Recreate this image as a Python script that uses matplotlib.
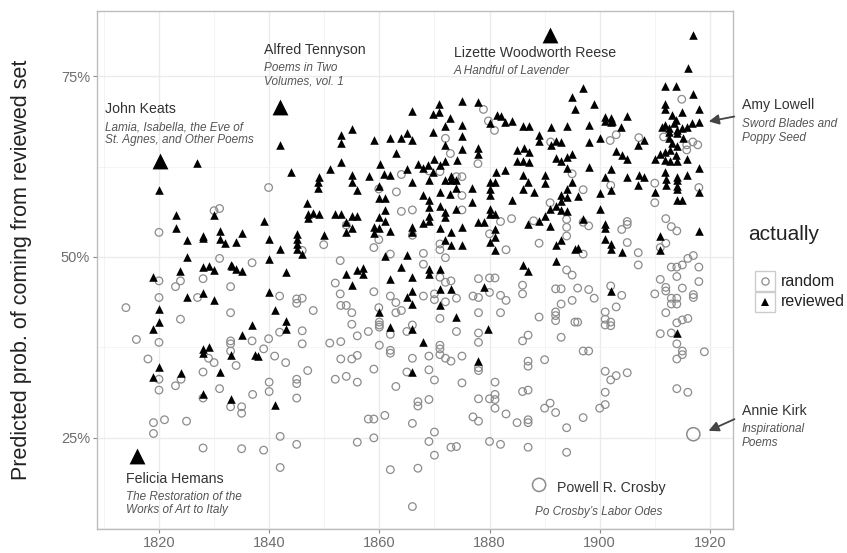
import matplotlib
matplotlib.use('Agg')
import matplotlib.pyplot as plt
from matplotlib.lines import Line2D
from matplotlib.patches import Rectangle

plt.rcParams['font.family'] = ['Liberation Sans', 'DejaVu Sans']

# ---------------- data (year, predicted probability in %) ----------------
reviewed_pts = [
    (1826.9, 63.0),
    (1841.9, 65.5), (1866.0, 70.2), (1855.1, 67.7), (1853.1, 66.9), (1853.1, 65.7), (1859.0, 66.2),
    (1862.0, 66.5), (1864.0, 66.4), (1865.0, 67.1), (1866.0, 66.2), (1863.0, 64.4), (1853.0, 63.1),
    (1851.0, 62.2), (1844.0, 61.8), (1860.1, 62.9), (1855.1, 61.3), (1858.1, 61.2), (1860.9, 61.5),
    (1862.0, 61.3), (1865.0, 62.2), (1849.0, 61.0),
    (1870.9, 71.2), (1875.0, 71.5), (1877.9, 71.4), (1869.8, 69.8), (1870.9, 70.0), (1872.9, 69.2),
    (1881.4, 69.6), (1882.0, 69.5), (1882.9, 68.7), (1884.1, 68.8), (1880.1, 68.5), (1886.1, 68.1),
    (1887.1, 68.1), (1891.1, 68.0), (1894.0, 68.1), (1895.0, 72.1), (1895.6, 70.5), (1869.8, 67.3),
    (1872.0, 68.1), (1875.0, 68.3), (1875.0, 66.7), (1872.0, 65.5), (1874.1, 63.4), (1875.0, 64.9),
    (1877.9, 65.0), (1877.9, 64.2), (1888.9, 66.8), (1888.9, 66.1), (1891.1, 65.5), (1892.1, 66.0),
    (1893.0, 65.9), (1885.0, 64.8), (1886.2, 65.0), (1887.1, 64.5), (1885.0, 63.2), (1886.1, 63.2),
    (1887.1, 63.1), (1892.0, 63.7), (1892.9, 63.2), (1894.0, 63.8), (1895.0, 64.3), (1894.0, 62.3),
    (1881.1, 61.8), (1882.9, 62.0), (1886.1, 61.3), (1890.1, 61.3), (1867.1, 62.8), (1868.0, 62.3),
    (1868.9, 62.7), (1870.0, 63.6), (1871.0, 62.7), (1872.0, 63.2), (1869.8, 61.8), (1873.0, 61.2),
    (1916.9, 80.7), (1916.0, 76.1), (1911.9, 73.7), (1913.9, 73.7), (1916.9, 72.5), (1896.9, 73.4),
    (1898.9, 71.1), (1911.9, 71.1), (1911.9, 70.5), (1914.9, 70.1), (1918.0, 70.4), (1905.0, 69.5),
    (1901.0, 69.4), (1902.0, 69.2), (1901.0, 68.8), (1902.0, 68.7), (1902.3, 68.8), (1913.1, 69.6),
    (1913.9, 68.9), (1898.0, 68.3), (1903.8, 68.0), (1908.0, 66.2), (1900.0, 66.5), (1898.0, 65.9),
    (1911.3, 68.0), (1911.9, 68.2), (1912.5, 67.8), (1913.4, 68.5), (1914.0, 67.5), (1914.9, 67.8),
    (1915.8, 68.0), (1916.7, 68.5), (1918.0, 68.7), (1912.5, 67.3), (1914.0, 67.1), (1912.5, 66.5),
    (1913.1, 65.8), (1915.2, 66.5), (1914.0, 65.3), (1903.0, 64.6), (1904.0, 64.1), (1905.0, 63.6),
    (1907.0, 65.5), (1910.1, 63.6), (1911.0, 64.3), (1911.9, 64.5), (1912.8, 64.8), (1913.9, 64.1),
    (1911.9, 63.4), (1912.8, 63.2), (1914.0, 63.2), (1915.8, 63.5), (1918.0, 62.3), (1898.0, 62.5),
    (1902.0, 62.2), (1901.0, 61.1), (1905.0, 61.1), (1907.1, 61.3), (1908.0, 61.1), (1911.9, 61.8),
    (1914.0, 61.1), (1915.8, 61.3),
    (1820.0, 59.2), (1823.0, 55.8), (1823.0, 54.0), (1825.0, 52.3), (1828.0, 52.9), (1828.0, 52.6),
    (1830.0, 55.8), (1831.0, 53.6), (1831.0, 52.5), (1832.0, 52.0), (1834.0, 52.1), (1835.0, 53.3),
    (1825.0, 50.0), (1823.9, 48.1), (1828.0, 48.6), (1829.0, 48.7), (1830.0, 48.2), (1833.0, 48.9),
    (1833.3, 48.7), (1834.0, 48.3), (1835.0, 48.0), (1818.9, 47.2), (1825.0, 44.4), (1828.0, 45.0),
    (1830.0, 44.0), (1820.0, 42.8), (1820.0, 41.0), (1818.9, 40.0), (1836.9, 40.6), (1835.0, 39.2),
    (1828.0, 37.3), (1829.0, 37.5),
    (1848.9, 60.3), (1848.9, 59.5), (1855.0, 60.3), (1856.0, 59.3), (1860.0, 59.8), (1866.0, 60.4),
    (1846.9, 57.5), (1839.0, 55.0), (1847.0, 56.0), (1847.0, 55.4), (1848.0, 56.1), (1849.0, 55.9),
    (1852.0, 55.9), (1853.0, 55.9), (1855.0, 55.7), (1856.0, 55.7), (1860.0, 58.2), (1861.0, 58.2),
    (1861.0, 56.5), (1860.0, 55.5), (1861.0, 55.0), (1854.0, 54.9), (1855.0, 54.0), (1854.0, 53.5),
    (1859.0, 54.2), (1860.0, 54.0), (1859.0, 53.3), (1862.0, 53.6), (1866.0, 54.1), (1866.0, 53.4),
    (1839.9, 52.5), (1845.0, 53.2), (1845.0, 52.5), (1845.0, 51.8), (1845.0, 51.1), (1846.0, 50.4),
    (1841.9, 51.1), (1849.9, 53.0), (1839.9, 49.7), (1843.0, 47.9), (1854.0, 47.6), (1856.0, 48.2),
    (1857.0, 48.5), (1857.0, 47.7), (1855.0, 46.1), (1861.0, 50.1), (1865.0, 50.3), (1864.0, 48.6),
    (1862.0, 46.9), (1866.0, 47.3), (1866.0, 45.3), (1865.0, 44.4), (1866.0, 43.5), (1860.0, 42.4),
    (1839.9, 45.1), (1841.0, 42.7), (1843.0, 41.1), (1843.0, 40.0), (1862.0, 40.3), (1866.0, 40.0),
    (1869.0, 60.7), (1872.0, 60.7), (1873.0, 60.7), (1874.0, 60.7), (1876.8, 59.6), (1880.0, 60.3),
    (1881.0, 60.3), (1880.0, 59.4), (1880.0, 58.6), (1871.0, 59.0), (1872.9, 58.7), (1874.0, 59.5),
    (1868.0, 58.5), (1869.0, 57.9), (1876.8, 57.6), (1884.0, 57.9), (1886.0, 59.4), (1887.0, 60.3),
    (1888.0, 59.0), (1890.0, 60.2), (1893.0, 57.8), (1894.0, 58.3), (1893.0, 58.6), (1894.0, 59.4),
    (1895.0, 60.3), (1869.0, 56.9), (1871.0, 57.0), (1872.0, 56.2), (1872.0, 55.5), (1874.0, 56.7),
    (1869.0, 55.7), (1880.0, 56.7), (1880.0, 56.0), (1881.0, 56.0), (1868.0, 54.7), (1869.0, 55.0),
    (1871.0, 54.0), (1873.0, 53.5), (1875.0, 54.1), (1878.0, 54.8), (1879.0, 54.8), (1881.0, 53.9),
    (1881.0, 52.8), (1880.0, 52.1), (1881.0, 50.9), (1887.0, 54.5), (1889.0, 55.0), (1890.0, 55.6),
    (1891.0, 54.3), (1891.0, 56.7), (1892.0, 57.1), (1893.0, 56.5), (1894.0, 56.3), (1892.1, 51.6),
    (1893.0, 52.4), (1892.1, 49.5), (1872.0, 52.3), (1873.0, 51.6), (1875.0, 51.6), (1895.5, 51.1),
    (1869.0, 48.4), (1869.0, 47.6), (1871.0, 48.4), (1886.0, 48.9), (1887.0, 48.1), (1879.0, 45.9),
    (1871.0, 45.6), (1873.0, 45.6), (1871.0, 43.3), (1874.0, 41.7), (1879.8, 40.0), (1867.9, 38.3),
    (1900.0, 58.9), (1902.0, 59.3), (1907.0, 59.9), (1910.0, 59.0), (1912.0, 59.9), (1912.0, 60.8),
    (1914.0, 60.6), (1914.0, 59.8), (1914.0, 59.4), (1914.0, 57.9), (1915.0, 57.9), (1918.0, 59.0),
    (1900.0, 56.7), (1897.0, 55.3), (1901.0, 54.5), (1901.0, 54.0), (1901.0, 52.5), (1902.0, 51.8),
    (1902.0, 51.1), (1904.0, 50.7), (1911.0, 52.9), (1911.0, 50.9), (1918.0, 53.6), (1896.0, 58.4),
    (1896.0, 51.2), (1902.0, 45.3), (1914.0, 39.5),
    (1820.0, 34.8), (1819.0, 33.4), (1824.0, 33.9), (1828.0, 36.7), (1831.0, 34.1), (1833.0, 36.5),
    (1837.5, 36.5), (1828.0, 31.0), (1833.0, 30.3),
    (1838.0, 36.3), (1841.0, 29.5), (1866.0, 34.1), (1878.0, 35.6),
]

random_pts = [
    (1864.0, 61.4),
    (1878.9, 70.4), (1879.8, 68.8), (1872.0, 66.4), (1872.9, 64.3), (1877.9, 62.9), (1880.9, 67.5),
    (1891.1, 65.9), (1895.0, 61.5), (1869.0, 61.9), (1874.0, 61.1), (1875.0, 61.1), (1871.0, 61.8),
    (1914.9, 71.8), (1901.9, 66.1), (1903.0, 66.9), (1907.1, 66.5), (1911.6, 66.6), (1915.8, 65.5),
    (1916.9, 65.9), (1917.8, 65.5), (1915.8, 64.8),
    (1830.0, 56.4), (1831.0, 56.7), (1820.0, 53.4), (1831.0, 49.8), (1836.9, 49.2), (1820.0, 46.7),
    (1823.0, 45.9), (1823.9, 46.7), (1828.0, 47.0), (1833.0, 45.9), (1827.0, 44.4), (1820.0, 44.4),
    (1814.0, 43.0), (1823.9, 41.4), (1833.0, 42.3), (1815.9, 38.6), (1820.0, 38.2), (1833.0, 38.4),
    (1833.0, 38.0), (1833.0, 37.0), (1836.9, 38.4),
    (1839.9, 59.6), (1863.1, 59.0), (1859.9, 59.4), (1864.0, 56.3), (1866.0, 56.5), (1854.0, 54.4),
    (1859.9, 52.4), (1859.0, 51.3), (1849.9, 51.7), (1846.0, 50.9), (1862.0, 50.4), (1866.0, 53.0),
    (1852.9, 49.5), (1852.0, 46.4), (1859.0, 45.2), (1841.9, 44.6), (1845.0, 44.2), (1846.0, 44.3),
    (1845.0, 43.6), (1848.0, 42.6), (1852.9, 44.9), (1853.0, 43.3), (1854.0, 43.3), (1855.0, 42.3),
    (1862.0, 44.6), (1863.0, 43.7), (1863.0, 42.3), (1864.0, 42.6), (1859.9, 43.0), (1855.0, 40.7),
    (1860.0, 41.0), (1860.0, 40.6), (1860.0, 40.3), (1866.0, 40.6), (1862.0, 39.3), (1865.0, 39.7),
    (1846.0, 39.8), (1841.9, 39.6), (1856.0, 39.1), (1858.0, 39.7), (1839.9, 38.7), (1846.0, 38.0),
    (1851.0, 38.1), (1853.0, 38.3), (1839.0, 37.3), (1860.0, 37.8), (1862.0, 37.1),
    (1875.0, 58.5), (1875.0, 56.5), (1884.0, 55.3), (1882.0, 54.9), (1888.0, 55.0), (1891.0, 57.5),
    (1894.0, 55.2), (1894.0, 54.1), (1894.0, 52.9), (1889.0, 51.9), (1883.0, 51.0), (1880.0, 53.2),
    (1868.0, 50.5), (1871.0, 51.0), (1871.0, 51.8), (1872.0, 49.9), (1868.0, 49.0), (1871.0, 47.2),
    (1872.0, 46.5), (1873.0, 46.7), (1878.0, 47.0), (1880.0, 47.1), (1881.0, 47.1), (1886.0, 46.1),
    (1886.0, 44.9), (1892.0, 45.6), (1893.0, 45.6), (1894.0, 48.2), (1895.0, 47.5), (1868.0, 44.6),
    (1870.0, 44.9), (1870.0, 44.1), (1872.0, 43.8), (1874.0, 44.3), (1877.0, 44.6), (1878.0, 44.4),
    (1880.0, 45.1), (1882.0, 44.7), (1883.0, 44.0), (1893.0, 43.5), (1895.0, 44.0), (1889.0, 41.7),
    (1892.0, 42.4), (1892.0, 41.9), (1892.0, 41.2), (1871.0, 41.5), (1878.0, 42.3), (1882.0, 42.3),
    (1895.5, 41.0), (1874.0, 39.7), (1878.0, 39.5), (1878.0, 38.2), (1886.0, 38.4), (1887.0, 39.2),
    (1893.0, 38.9), (1871.0, 37.8), (1871.0, 37.3),
    (1897.0, 59.3), (1902.0, 59.9), (1910.0, 60.2), (1918.0, 59.6), (1910.0, 57.5), (1897.0, 54.8),
    (1898.0, 54.3), (1905.0, 54.9), (1905.0, 54.5), (1904.0, 53.8), (1905.0, 52.0), (1907.0, 50.6),
    (1907.0, 48.9), (1912.0, 55.3), (1913.0, 54.2), (1914.0, 53.6), (1912.0, 51.9), (1911.0, 51.3),
    (1897.0, 50.4), (1916.0, 49.8), (1917.0, 50.2), (1913.0, 48.6), (1914.0, 48.6), (1915.0, 48.9),
    (1918.0, 48.6), (1914.0, 47.3), (1911.0, 46.9), (1918.0, 46.6), (1915.0, 45.7), (1912.0, 45.8),
    (1912.0, 45.3), (1910.0, 44.9), (1913.0, 44.3), (1914.0, 44.3), (1913.0, 43.5), (1914.0, 43.5),
    (1917.0, 44.8), (1917.0, 44.4), (1904.0, 44.7), (1903.0, 43.1), (1901.0, 42.4), (1901.0, 41.4),
    (1901.0, 40.6), (1902.0, 41.0), (1902.0, 40.5), (1899.0, 44.3), (1898.0, 45.5), (1896.0, 45.7),
    (1896.0, 41.0), (1912.0, 42.3), (1914.0, 40.9), (1915.0, 41.3), (1916.0, 41.5), (1911.0, 39.4),
    (1913.0, 39.5), (1914.0, 38.0), (1898.0, 37.0), (1897.0, 37.0), (1915.0, 37.0), (1919.0, 36.9),
    (1902.0, 46.0),
    (1818.0, 35.9), (1820.0, 33.1), (1820.0, 31.6), (1823.0, 32.2), (1824.0, 33.1), (1828.0, 34.1),
    (1829.0, 36.0), (1830.0, 35.4), (1834.0, 35.0), (1831.0, 31.8), (1828.0, 30.5), (1837.0, 31.0),
    (1833.0, 29.3), (1835.0, 29.3), (1835.0, 28.4), (1819.0, 27.1), (1819.0, 25.6), (1821.0, 27.5),
    (1825.0, 27.3), (1828.0, 23.6), (1835.0, 23.5),
    (1841.0, 36.3), (1843.0, 35.4), (1840.0, 32.7), (1840.0, 31.4), (1845.0, 33.1), (1845.0, 32.5),
    (1845.0, 30.5), (1847.0, 34.3), (1853.0, 35.9), (1855.0, 35.9), (1856.0, 36.4), (1852.0, 33.1),
    (1854.0, 33.5), (1856.0, 32.7), (1859.0, 34.5), (1862.0, 36.7), (1866.0, 36.0), (1865.0, 34.1),
    (1863.0, 32.1), (1867.0, 30.0), (1867.0, 29.4), (1858.0, 27.6), (1859.0, 27.6), (1861.0, 28.1),
    (1866.0, 27.0), (1842.0, 25.2), (1845.0, 24.1), (1839.0, 23.3), (1856.0, 24.4), (1859.0, 25.0),
    (1842.0, 20.9), (1862.0, 20.6), (1867.0, 20.8), (1866.0, 15.5),
    (1869.0, 36.3), (1871.0, 36.5), (1872.0, 36.0), (1873.0, 35.6), (1875.0, 36.3), (1869.0, 34.4),
    (1870.0, 33.0), (1875.0, 32.6), (1878.0, 34.7), (1878.0, 34.3), (1881.0, 32.7), (1881.0, 31.0),
    (1881.0, 30.3), (1881.0, 29.1), (1880.0, 30.4), (1878.0, 30.4), (1869.0, 30.3), (1877.0, 27.9),
    (1878.0, 27.3), (1883.0, 28.3), (1885.0, 27.1), (1887.0, 27.5), (1887.0, 27.1), (1886.0, 31.4),
    (1887.0, 31.6), (1887.0, 35.6), (1887.0, 34.9), (1890.0, 35.8), (1890.0, 29.1), (1891.0, 29.8),
    (1892.0, 28.5), (1894.0, 26.4), (1870.0, 25.8), (1869.0, 24.5), (1870.0, 22.6), (1873.0, 23.7),
    (1874.0, 23.8), (1880.0, 24.5), (1882.0, 24.1), (1887.0, 23.7), (1894.0, 23.0),
    (1901.0, 34.2), (1902.0, 33.0), (1903.0, 33.6), (1905.0, 34.0), (1901.0, 31.3), (1900.0, 29.1),
    (1901.0, 29.6), (1897.0, 27.8), (1914.0, 35.9), (1915.0, 36.5), (1914.0, 31.8), (1916.0, 31.3),
]

# highlighted books (enlarged markers)
highlight_reviewed = [(1820.1, 63.2), (1841.9, 70.7), (1816.0, 22.5), (1890.9, 80.7)]
highlight_random = [(1889.0, 18.5), (1917.0, 25.5)]

x_ticks = [1820, 1840, 1860, 1880, 1900, 1920]
y_ticks = [25, 50, 75]
y_tick_labels = ['25%', '50%', '75%']

# ---------------- figure ----------------
W, H = 847, 553
fig = plt.figure(figsize=(W / 100, H / 100), dpi=100)
fig.patch.set_facecolor('white')

def fx(px):
    return px / W

def fy(py):
    return 1 - py / H

left, right, top, bottom = 97, 733, 11, 529
ax = fig.add_axes([fx(left), fy(bottom), fx(right) - fx(left), fy(top) - fy(bottom)])
ax.set_xlim(1808.75, 1924.2)
ax.set_ylim(12.4, 84.0)

ax.set_xticks(x_ticks)
ax.set_xticks([1810, 1830, 1850, 1870, 1890, 1910], minor=True)
ax.set_yticks(y_ticks)
ax.set_yticklabels(y_tick_labels)
ax.set_yticks([12.5, 37.5, 62.5], minor=True)
ax.grid(which='major', color='#ebebeb', linewidth=1.0)
ax.grid(which='minor', color='#f3f3f3', linewidth=0.6)
ax.set_axisbelow(True)
for s in ax.spines.values():
    s.set_color('#bdbdbd')
    s.set_linewidth(1.0)
ax.tick_params(which='major', length=3, width=0.8, color='#8a8a8a', labelcolor='#6e6e6e', labelsize=10.5, pad=2)
ax.tick_params(which='minor', length=0)
ax.set_ylabel('Predicted prob. of coming from reviewed set', fontsize=15.5, color='#222222')
ax.yaxis.set_label_coords((32 - left) / (right - left), 0.5)

ry = [p[0] for p in random_pts]
rp = [p[1] for p in random_pts]
vy = [p[0] for p in reviewed_pts]
vp = [p[1] for p in reviewed_pts]

ax.scatter(ry, rp, s=30, marker='o', facecolors='none', edgecolors='#8c8c8c', linewidths=0.9, zorder=3)
ax.scatter(vy, vp, s=38, marker='^', color='black', linewidths=0, zorder=4)
ax.scatter([p[0] for p in highlight_random], [p[1] for p in highlight_random], s=90, marker='o',
           facecolors='none', edgecolors='#8c8c8c', linewidths=1.1, zorder=3)
ax.scatter([p[0] for p in highlight_reviewed], [p[1] for p in highlight_reviewed], s=130, marker='^',
           color='black', linewidths=0, zorder=4)

# ---------------- annotations ----------------
name_kw = dict(fontsize=10.2, color='#333333', va='center', ha='left', clip_on=False)
sub_kw = dict(fontsize=8.5, color='#555555', style='italic', va='center', ha='left', clip_on=False)

def note(px, py, name, subs, sub_px=None, gap=18, step=13.5):
    fig.text(fx(px), fy(py), name, **name_kw)
    sx = px if sub_px is None else sub_px
    for i, s in enumerate(subs):
        fig.text(fx(sx), fy(py + gap + i * step), s, **sub_kw)

note(105, 109, 'John Keats', ['Lamia, Isabella, the Eve of', 'St. Agnes, and Other Poems'])
note(264, 50, 'Alfred Tennyson', ['Poems in Two', 'Volumes, vol. 1'])
note(454, 53, 'Lizette Woodworth Reese', ['A Handful of Lavender'])
note(742, 105, 'Amy Lowell', ['Sword Blades and', 'Poppy Seed'], gap=19)
note(742, 411, 'Annie Kirk', ['Inspirational', 'Poems'], gap=18)
note(126, 479, 'Felicia Hemans', ['The Restoration of the', 'Works of Art to Italy'], gap=18)
note(557, 488, 'Powell R. Crosby', ['Po Crosby\u2019s Labor Odes'], sub_px=535, gap=24)

arrow_kw = dict(arrowstyle='-|>,head_length=0.6,head_width=0.3', color='#444444', lw=1.3)
ax.annotate('', xy=(fx(706), fy(122)), xycoords='figure fraction',
            xytext=(fx(737), fy(116)), textcoords='figure fraction', arrowprops=arrow_kw,
            annotation_clip=False)
ax.annotate('', xy=(fx(706), fy(432)), xycoords='figure fraction',
            xytext=(fx(737), fy(418)), textcoords='figure fraction', arrowprops=arrow_kw,
            annotation_clip=False)

# ---------------- legend ----------------
fig.text(fx(748), fy(234), 'actually', fontsize=15, color='#222222', va='center', ha='left')
key_size = 20
for i, (lab, mk, fc, ec, ms) in enumerate([('random', 'o', 'none', '#8c8c8c', 5.2),
                                            ('reviewed', '^', 'black', 'black', 6.2)]):
    cy = 281 + i * 21
    rect = Rectangle((fx(755), fy(cy + key_size / 2)), key_size / W, key_size / H,
                     transform=fig.transFigure, facecolor='white', edgecolor='#cccccc', lw=1.0)
    fig.add_artist(rect)
    fig.add_artist(Line2D([fx(765)], [fy(cy)], transform=fig.transFigure, marker=mk, markersize=ms,
                          markerfacecolor=fc, markeredgecolor=ec, markeredgewidth=0.9 if mk == 'o' else 0,
                          linestyle='none'))
    fig.text(fx(781), fy(cy), lab, fontsize=11.5, color='#222222', va='center', ha='left')

fig.savefig('out.png', dpi=100, facecolor='white')
